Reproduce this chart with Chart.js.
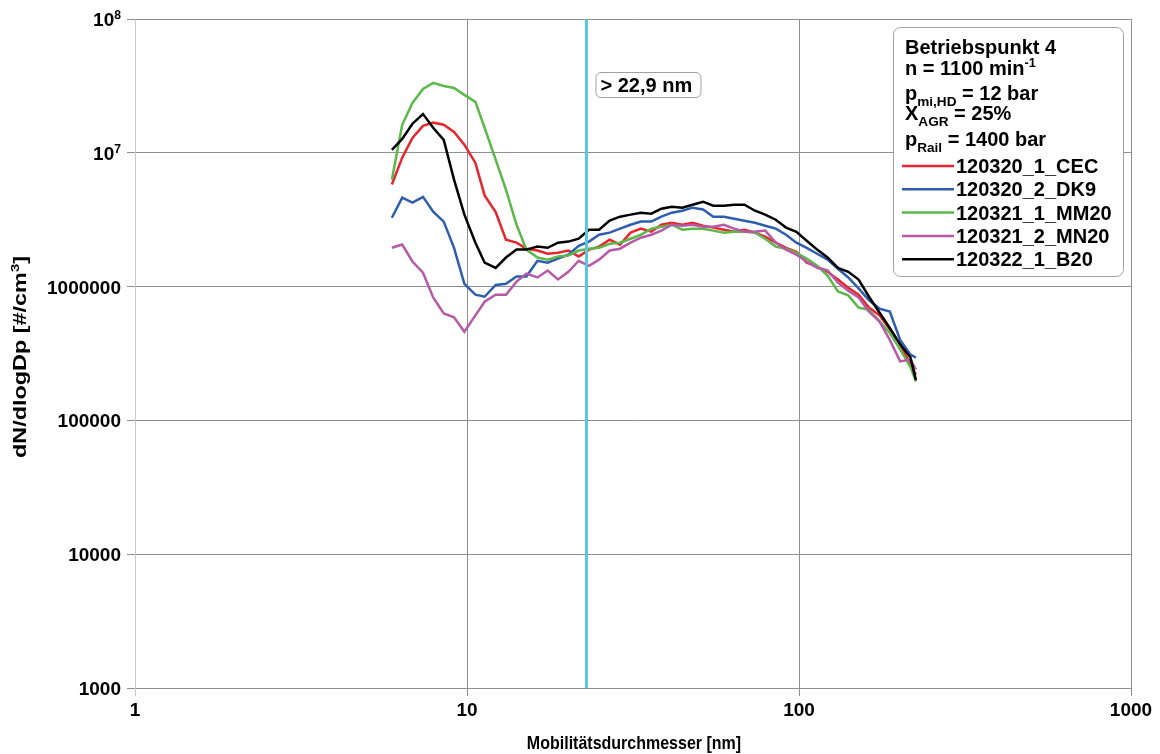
<!DOCTYPE html>
<html>
<head>
<meta charset="utf-8">
<script src="https://cdn.jsdelivr.net/npm/chart.js@4.4.1/dist/chart.umd.min.js"></script>
<style>
  body { margin: 0; background: #fff; }
</style>
</head>
<body>
<canvas id="myChart" width="1160" height="754"></canvas>
<script>
// particle mobility diameter [nm]
const diameters = [5.94, 6.38, 6.85, 7.37, 7.91, 8.51, 9.14, 9.82, 10.6, 11.3, 12.2, 13.1, 14.1, 15.1, 16.3, 17.5, 18.8, 20.2, 21.7, 23.3,
  25.0, 26.9, 28.9, 31.1, 33.4, 35.9, 38.5, 41.4, 44.5, 47.8, 51.4, 55.2, 59.4, 63.8, 68.5, 73.7, 79.1, 85.1, 91.4, 98.2,
  105.5, 113.4, 121.9, 131.0, 140.7, 151.2, 162.5, 174.7, 187.7, 201.7, 216.7, 225.0];

// dN/dlogDp [#/cm3]
const cec = [5.8e6, 9.2e6, 1.29e7, 1.59e7, 1.68e7, 1.62e7, 1.43e7, 1.15e7, 8.4e6, 4.8e6, 3.6e6, 2.24e6, 2.13e6, 1.92e6, 1.86e6, 1.76e6, 1.79e6, 1.86e6, 1.68e6, 1.89e6,
  1.99e6, 2.24e6, 2.06e6, 2.53e6, 2.71e6, 2.57e6, 2.90e6, 3.0e6, 2.90e6, 3.0e6, 2.85e6, 2.76e6, 2.66e6, 2.57e6, 2.66e6, 2.53e6, 2.36e6, 2.13e6, 1.95e6, 1.82e6,
  1.51e6, 1.41e6, 1.29e6, 1.13e6, 9.8e5, 8.7e5, 6.97e5, 6.1e5, 4.8e5, 3.7e5, 2.6e5, 2.2e5];
const dk9 = [3.27e6, 4.62e6, 4.24e6, 4.69e6, 3.63e6, 3.06e6, 1.95e6, 1.05e6, 8.7e5, 8.4e5, 1.03e6, 1.05e6, 1.19e6, 1.19e6, 1.56e6, 1.51e6, 1.62e6, 1.73e6, 2.02e6, 2.17e6,
  2.44e6, 2.53e6, 2.71e6, 2.90e6, 3.06e6, 3.06e6, 3.33e6, 3.57e6, 3.69e6, 3.89e6, 3.77e6, 3.33e6, 3.33e6, 3.21e6, 3.11e6, 3.0e6, 2.85e6, 2.71e6, 2.44e6, 2.13e6,
  1.95e6, 1.76e6, 1.59e6, 1.36e6, 1.17e6, 9.7e5, 7.9e5, 6.85e5, 6.5e5, 4.0e5, 3.1e5, 2.95e5];
const mm20 = [6.3e6, 1.62e7, 2.36e7, 3.0e7, 3.33e7, 3.16e7, 3.05e7, 2.71e7, 2.40e7, 1.54e7, 8.9e6, 5.3e6, 2.9e6, 1.89e6, 1.65e6, 1.59e6, 1.68e6, 1.71e6, 1.86e6, 1.92e6,
  1.95e6, 2.09e6, 2.13e6, 2.28e6, 2.44e6, 2.71e6, 2.80e6, 2.90e6, 2.66e6, 2.71e6, 2.71e6, 2.62e6, 2.53e6, 2.57e6, 2.57e6, 2.53e6, 2.28e6, 1.99e6, 1.92e6, 1.79e6,
  1.62e6, 1.43e6, 1.21e6, 9.2e5, 8.6e5, 6.97e5, 6.7e5, 5.5e5, 4.5e5, 3.4e5, 2.5e5, 1.95e5];
const mn20 = [1.95e6, 2.06e6, 1.54e6, 1.27e6, 8.3e5, 6.3e5, 5.9e5, 4.6e5, 6.1e5, 7.7e5, 8.7e5, 8.7e5, 1.09e6, 1.25e6, 1.17e6, 1.32e6, 1.13e6, 1.29e6, 1.56e6, 1.43e6,
  1.59e6, 1.86e6, 1.92e6, 2.13e6, 2.32e6, 2.44e6, 2.62e6, 2.90e6, 2.85e6, 2.90e6, 2.80e6, 2.80e6, 2.90e6, 2.71e6, 2.57e6, 2.57e6, 2.62e6, 2.13e6, 1.89e6, 1.73e6,
  1.54e6, 1.38e6, 1.32e6, 1.07e6, 9.3e5, 8.3e5, 6.5e5, 5.5e5, 4.0e5, 2.76e5, 2.85e5, 2.4e5];
const b20 = [1.05e7, 1.27e7, 1.65e7, 1.95e7, 1.54e7, 1.25e7, 6.3e6, 3.45e6, 2.13e6, 1.51e6, 1.38e6, 1.65e6, 1.89e6, 1.89e6, 1.99e6, 1.95e6, 2.13e6, 2.17e6, 2.28e6, 2.66e6,
  2.66e6, 3.11e6, 3.33e6, 3.45e6, 3.57e6, 3.51e6, 3.82e6, 3.95e6, 3.89e6, 4.09e6, 4.31e6, 4.02e6, 4.02e6, 4.09e6, 4.09e6, 3.69e6, 3.45e6, 3.16e6, 2.76e6, 2.57e6,
  2.2e6, 1.89e6, 1.65e6, 1.38e6, 1.29e6, 1.13e6, 8.4e5, 6.4e5, 4.9e5, 3.7e5, 2.95e5, 2.0e5];

const seriesNames = ['120320_1_CEC', '120320_2_DK9', '120321_1_MM20', '120321_2_MN20', '120322_1_B20'];
const seriesValues = [cec, dk9, mm20, mn20, b20];
const seriesColors = ['#e8242c', '#2e5db0', '#5cb848', '#b65aa8', '#000000'];

const xTicks = [1, 10, 100, 1000];
const xTickLabels = ['1', '10', '100', '1000'];
const yTicks = [1000, 10000, 100000, 1000000, 10000000, 100000000];
const yTickLabels = ['1000', '10000', '100000', '1000000', '10^7', '10^8'];

const cutoff = 22.9;
const cutoffLabel = '> 22,9 nm';

const FONT = '"Liberation Sans", Arial, Helvetica, sans-serif';

// draws text made of normal / sub / sup parts, returns width
function richText(ctx, x, y, parts, size, measureOnly) {
  let cx = x;
  parts.forEach(function(p) {
    let s = size, dy = 0;
    if (p[1] === 'sub') { s = size * 0.68; dy = size * 0.28; }
    if (p[1] === 'sup') { s = size * 0.64; dy = -size * 0.38; }
    ctx.font = 'bold ' + s + 'px ' + FONT;
    if (!measureOnly) ctx.fillText(p[0], cx, y + dy);
    cx += ctx.measureText(p[0]).width;
  });
  return cx - x;
}

function roundRect(ctx, x, y, w, h, r) {
  ctx.beginPath();
  ctx.moveTo(x + r, y);
  ctx.arcTo(x + w, y, x + w, y + h, r);
  ctx.arcTo(x + w, y + h, x, y + h, r);
  ctx.arcTo(x, y + h, x, y, r);
  ctx.arcTo(x, y, x + w, y, r);
  ctx.closePath();
}

const decorations = {
  id: 'decorations',
  afterDraw(chart) {
    const ctx = chart.ctx;
    const xs = chart.scales.x, ys = chart.scales.y;
    ctx.save();
    ctx.fillStyle = '#000';
    ctx.textBaseline = 'alphabetic';

    // y tick labels
    yTicks.forEach(function(v, i) {
      const py = ys.getPixelForValue(v) + 7;
      const lab = yTickLabels[i];
      let parts = [[lab, '']];
      if (lab.indexOf('^') > 0) {
        const s = lab.split('^');
        parts = [[s[0], ''], [s[1], 'sup']];
      }
      const w = richText(ctx, 0, 0, parts, 19, true);
      richText(ctx, 121 - w, py, parts, 19);
    });

    // x tick labels
    xTicks.forEach(function(v, i) {
      const px = xs.getPixelForValue(v);
      ctx.font = 'bold 19px ' + FONT;
      ctx.textAlign = 'center';
      ctx.fillText(xTickLabels[i], px, 716);
    });
    ctx.textAlign = 'left';

    // x title, a bit taller than wide like the original
    ctx.save();
    ctx.translate(634, 749);
    ctx.scale(1, 1.2);
    ctx.font = 'bold 16px ' + FONT;
    ctx.textAlign = 'center';
    ctx.fillText('Mobilitätsdurchmesser [nm]', 0, 0);
    ctx.restore();

    // y title, slightly stretched along its length like the original
    ctx.save();
    ctx.translate(26, 357);
    ctx.rotate(-Math.PI / 2);
    ctx.scale(1.3, 1);
    const yTitle = [['dN/dlogDp [#/cm', ''], ['3', 'sup'], [']', '']];
    const tw = richText(ctx, 0, 0, yTitle, 18, true);
    richText(ctx, -tw / 2, 0, yTitle, 18);
    ctx.restore();

    // cut-off label
    const cx = xs.getPixelForValue(cutoff);
    ctx.fillStyle = '#fff';
    ctx.strokeStyle = '#a0a0a0';
    ctx.lineWidth = 1;
    roundRect(ctx, cx + 9.5, 72.5, 105, 25, 5);
    ctx.fill();
    ctx.stroke();
    ctx.fillStyle = '#000';
    ctx.font = 'bold 20px ' + FONT;
    ctx.fillText(cutoffLabel, cx + 14, 92);

    // legend box
    ctx.fillStyle = '#fff';
    ctx.strokeStyle = '#a0a0a0';
    roundRect(ctx, 893.5, 27.5, 230, 249, 7);
    ctx.fill();
    ctx.stroke();
    ctx.fillStyle = '#000';
    const head = [
      [['Betriebspunkt 4', '']],
      [['n = 1100 min', ''], ['-1', 'sup']],
      [['p', ''], ['mi,HD', 'sub'], [' = 12 bar', '']],
      [['X', ''], ['AGR', 'sub'], [' = 25%', '']],
      [['p', ''], ['Rail', 'sub'], [' = 1400 bar', '']]
    ];
    const headY = [54, 75, 100, 120, 146];
    head.forEach(function(parts, i) { richText(ctx, 905, headY[i], parts, 20); });

    seriesNames.forEach(function(name, i) {
      const ly = 166 + i * 23.3;
      ctx.strokeStyle = seriesColors[i];
      ctx.lineWidth = 2.5;
      ctx.beginPath();
      ctx.moveTo(902, ly);
      ctx.lineTo(954, ly);
      ctx.stroke();
      ctx.font = 'bold 20px ' + FONT;
      ctx.fillText(name, 956, ly + 7);
    });
    ctx.restore();
  }
};

const datasets = seriesNames.map(function(name, i) {
  return {
    label: name,
    data: diameters.map(function(d, j) { return { x: d, y: seriesValues[i][j] }; }),
    borderColor: seriesColors[i],
    borderWidth: 2.5,
    pointRadius: 0,
    tension: 0,
    order: seriesNames.length - i
  };
});
datasets.push({
  label: 'cutoff',
  data: [{ x: cutoff, y: 1000 }, { x: cutoff, y: 1e8 }],
  borderColor: '#5cc6de',
  borderWidth: 3,
  pointRadius: 0,
  order: 0
});

function decadeTicks(values) {
  return function(scale) {
    scale.ticks = values.map(function(v) { return { value: v, major: true }; });
  };
}

let myChart = new Chart(document.getElementById('myChart'), {
  type: 'line',
  data: { datasets: datasets },
  options: {
    responsive: false,
    animation: false,
    devicePixelRatio: 1,
    layout: { padding: { left: 127, right: 29, top: 19, bottom: 58 } },
    plugins: { legend: { display: false }, tooltip: { enabled: false } },
    scales: {
      x: {
        type: 'logarithmic',
        min: 1,
        max: 1000,
        afterBuildTicks: decadeTicks(xTicks),
        ticks: { display: false },
        grid: {
          color: function(c) { return c.tick && c.tick.value === 1 ? '#c8c8c8' : '#8e8e8e'; },
          lineWidth: 1,
          tickLength: 8
        },
        border: { color: '#8e8e8e' }
      },
      y: {
        type: 'logarithmic',
        min: 1000,
        max: 1e8,
        afterBuildTicks: decadeTicks(yTicks),
        ticks: { display: false },
        grid: { color: '#8e8e8e', lineWidth: 1, tickLength: 8 },
        border: { color: '#c8c8c8' }
      }
    }
  },
  plugins: [decorations]
});
</script>
</body>
</html>
